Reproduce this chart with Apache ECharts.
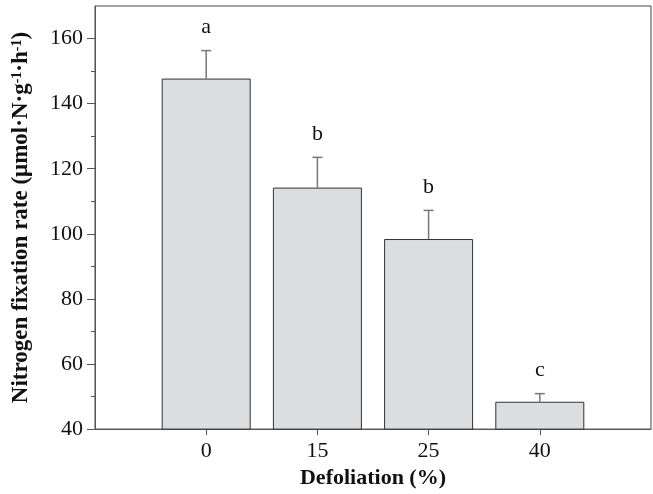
<!DOCTYPE html>
<html>
<head>
<meta charset="utf-8">
<script src="https://cdn.jsdelivr.net/npm/echarts@6/dist/echarts.min.js"></script>
<style>
  html, body { margin: 0; padding: 0; background: #fff; }
  #chart { width: 653px; height: 494px; }
</style>
</head>
<body>
<div id="chart"></div>
<script>
// Defoliation levels (x categories)
const categories = ['0', '15', '25', '40']
// Mean nitrogen fixation rate
const means = [147.7, 114.2, 98.4, 48.4]
// Upper error (SE) above the mean
const errors = [8.6, 9.3, 8.8, 2.5]
// Significance letters
const letters = ['a', 'b', 'b', 'c']
// Y axis ticks
const yMajorTicks = [40, 60, 80, 100, 120, 140, 160]
const yMinorTicks = [50, 70, 90, 110, 130, 150]

const serif = '"Liberation Serif", "Times New Roman", serif'
const positions = categories.map((c, i) => i + 1)

const chart = echarts.init(document.getElementById('chart'))

chart.setOption({
  animation: false,
  grid: {
    left: 95,
    right: 2,
    top: 6,
    bottom: 64,
    show: true,
    borderColor: '#444',
    borderWidth: 1
  },
  xAxis: {
    type: 'value',
    min: 0,
    max: categories.length + 1,
    interval: 1,
    splitLine: { show: false },
    axisLine: { lineStyle: { color: '#555', width: 1 } },
    axisTick: {
      customValues: positions,
      length: 6,
      lineStyle: { color: '#555' }
    },
    axisLabel: {
      customValues: positions,
      formatter: v => categories[v - 1] || '',
      fontFamily: serif,
      fontSize: 22,
      color: '#111',
      margin: 11
    },
    name: 'Defoliation (%)',
    nameLocation: 'middle',
    nameGap: 37,
    nameTextStyle: {
      fontFamily: serif,
      fontSize: 22,
      fontWeight: 'bold',
      color: '#111'
    }
  },
  yAxis: [{
    type: 'value',
    min: 40,
    max: 170,
    interval: 20,
    splitLine: { show: false },
    axisLine: { show: true, lineStyle: { color: '#555', width: 1 } },
    axisTick: {
      show: true,
      customValues: yMajorTicks,
      length: 8,
      lineStyle: { color: '#555' }
    },
    axisLabel: {
      customValues: yMajorTicks,
      fontFamily: serif,
      fontSize: 22,
      color: '#111',
      margin: 12
    },
    name: '{t|Nitrogen fixation rate (μmol·N·g}{s|-1}{t|·h}{s|-1}{t|)}',
    nameLocation: 'middle',
    nameGap: 62,
    nameRotate: 90,
    nameTextStyle: {
      rich: {
        t: { fontFamily: serif, fontSize: 23, fontWeight: 'bold', color: '#111' },
        s: { fontFamily: serif, fontSize: 14, fontWeight: 'bold', color: '#111', verticalAlign: 'top', padding: [0, 0, 9, 0] }
      }
    }
  }, {
    // minor ticks only
    type: 'value',
    min: 40,
    max: 170,
    position: 'left',
    splitLine: { show: false },
    axisLine: { show: false },
    axisTick: {
      show: true,
      customValues: yMinorTicks,
      length: 4,
      lineStyle: { color: '#555' }
    },
    axisLabel: { show: false }
  }],
  series: [{
    type: 'bar',
    data: positions.map((p, i) => [p, means[i]]),
    barWidth: 89,
    clip: true,
    itemStyle: {
      color: '#dcdddf',
      borderColor: '#333',
      borderWidth: 1
    }
  }, {
    type: 'custom',
    data: positions.map((p, i) => [p, means[i], errors[i]]),
    renderItem: function (params, api) {
      const x = api.value(0)
      const m = api.value(1)
      const e = api.value(2)
      const base = api.coord([x, m])
      const top = api.coord([x, m + e])
      return {
        type: 'group',
        children: [{
          type: 'line',
          shape: { x1: base[0], y1: base[1], x2: top[0], y2: top[1] },
          style: { stroke: '#777', lineWidth: 1.5 }
        }, {
          type: 'line',
          shape: { x1: top[0] - 5, y1: top[1], x2: top[0] + 5, y2: top[1] },
          style: { stroke: '#777', lineWidth: 1.5 }
        }, {
          type: 'text',
          style: {
            x: top[0],
            y: top[1] - 12,
            text: letters[params.dataIndex],
            align: 'center',
            verticalAlign: 'bottom',
            font: '22px ' + serif,
            fill: '#111'
          }
        }]
      }
    }
  }]
})
</script>
</body>
</html>
